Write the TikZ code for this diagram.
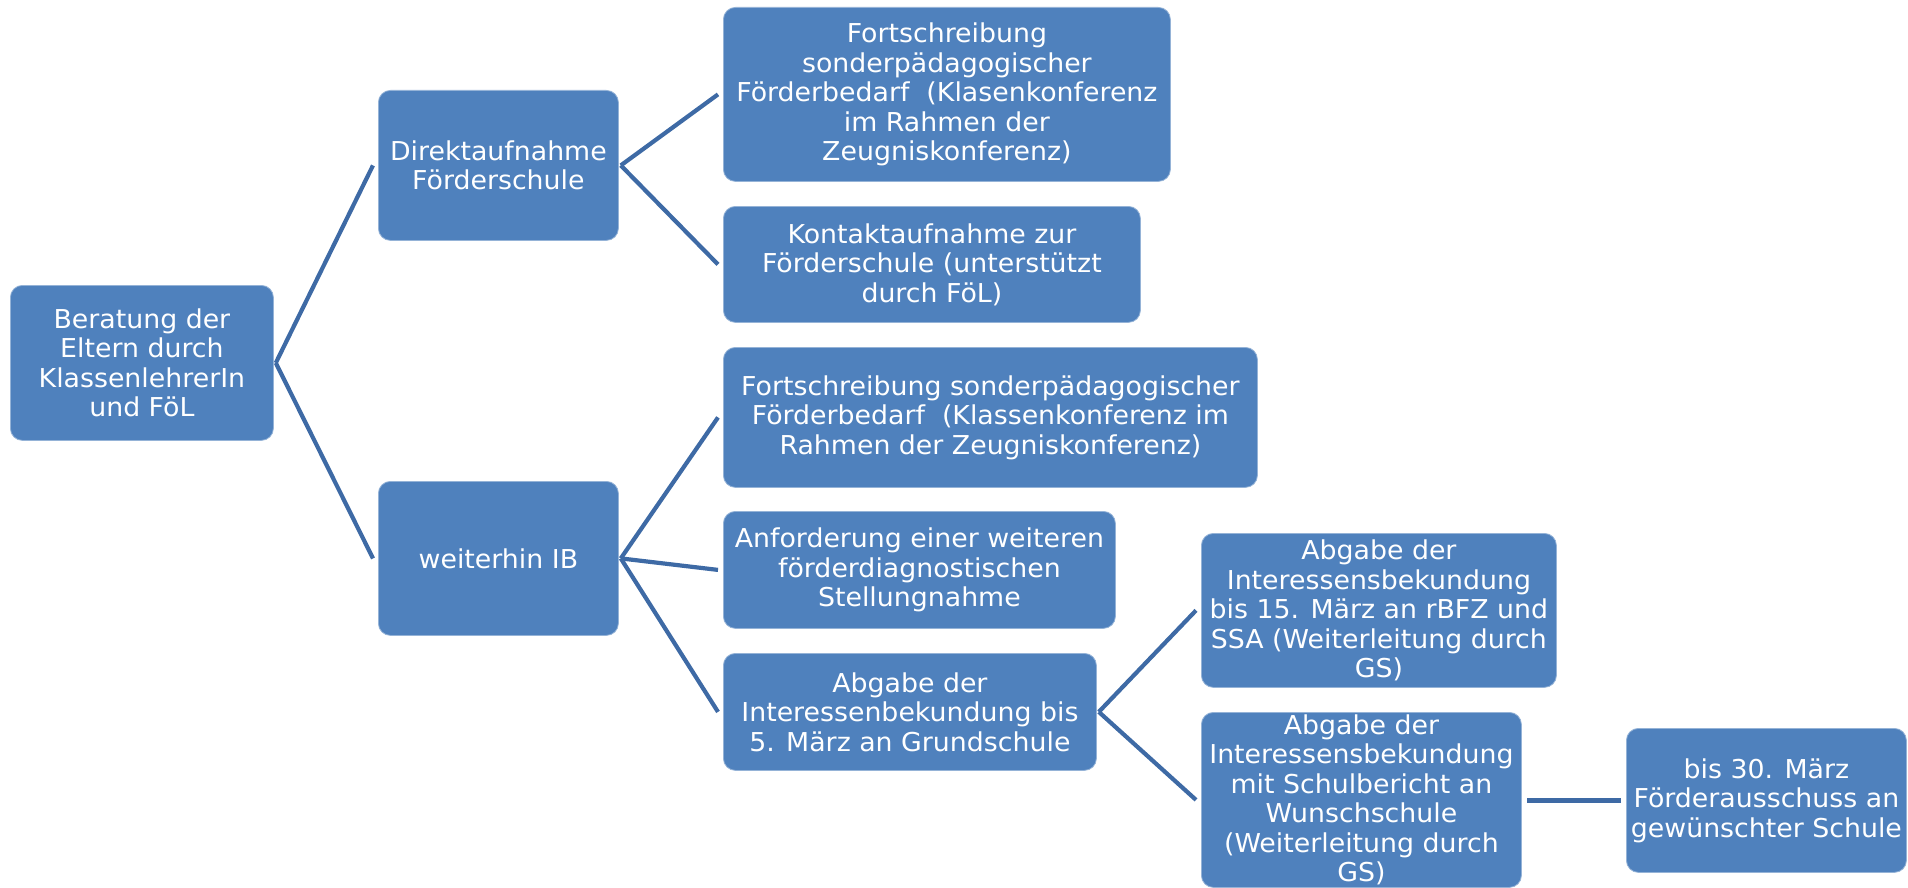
\documentclass[tikz,border=0pt]{standalone}
\usepackage{fontspec}
\setmainfont[FakeStretch=1.03]{DejaVu Sans}
\usetikzlibrary{calc}
\definecolor{boxblue}{RGB}{79,129,189}
\definecolor{lineblue}{RGB}{62,106,165}
\tikzset{
  box/.style={rectangle, rounded corners=12pt, fill=boxblue, draw=boxblue!60!white, line width=0.8pt,
    text=white, align=center, inner sep=0pt, anchor=north west,
    font=\fontsize{26}{29.5}\selectfont},
  conn/.style={draw=lineblue, line width=4.2pt, line join=miter}
}
\newcommand{\link}[2]{\draw[conn] ($(#1.east)+(2,0)$) -- ($(#2.west)+(-5,0)$);}
\begin{document}
\begin{tikzpicture}[x=1pt,y=-1pt]
\clip (0,0) rectangle (1908,888);
\useasboundingbox (0,0) rectangle (1908,888);
\node[box, minimum width=263pt, minimum height=155pt] (root) at (10,285)
  {Beratung der\\Eltern durch\\KlassenlehrerIn\\und FöL};
\node[box, minimum width=240pt, minimum height=150pt] (direkt) at (378,90)
  {Direktaufnahme\\Förderschule};
\node[box, minimum width=240pt, minimum height=154pt] (weiter) at (378,481)
  {weiterhin IB};
\node[box, minimum width=447pt, minimum height=174pt] (fort1) at (723,7)
  {Fortschreibung\\sonderpädagogischer\\Förderbedarf\ \ (Klasenkonferenz\\im Rahmen der\\Zeugniskonferenz)};
\node[box, minimum width=417pt, minimum height=116pt] (kontakt) at (723,206)
  {Kontaktaufnahme zur\\Förderschule (unterstützt\\durch FöL)};
\node[box, minimum width=534pt, minimum height=140pt] (fort2) at (723,347)
  {Fortschreibung sonderpädagogischer\\Förderbedarf\ \ (Klassenkonferenz im\\Rahmen der Zeugniskonferenz)};
\node[box, minimum width=392pt, minimum height=117pt] (anford) at (723,511)
  {Anforderung einer weiteren\\förderdiagnostischen\\Stellungnahme};
\node[box, minimum width=373pt, minimum height=117pt] (gs) at (723,653)
  {Abgabe der\\Interessenbekundung bis\\5. März an Grundschule};
\node[box, minimum width=355pt, minimum height=154pt] (rbfz) at (1201,533)
  {Abgabe der\\Interessensbekundung\\bis 15. März an rBFZ und\\SSA (Weiterleitung durch\\GS)};
\node[box, minimum width=320pt, minimum height=175pt] (wunsch) at (1201,712)
  {Abgabe der\\Interessensbekundung\\mit Schulbericht an\\Wunschschule\\(Weiterleitung durch\\GS)};
\node[box, minimum width=280pt, minimum height=144pt] (bis30) at (1626,728)
  {bis 30. März\\Förderausschuss an\\gewünschter Schule};
\link{root}{direkt}
\link{root}{weiter}
\link{direkt}{fort1}
\link{direkt}{kontakt}
\link{weiter}{fort2}
\link{weiter}{anford}
\link{weiter}{gs}
\link{gs}{rbfz}
\link{gs}{wunsch}
\draw[conn] ($(bis30.west)+(-5,0)$) -- ($(bis30.west -| wunsch.east)+(5,0)$);
\end{tikzpicture}
\end{document}
